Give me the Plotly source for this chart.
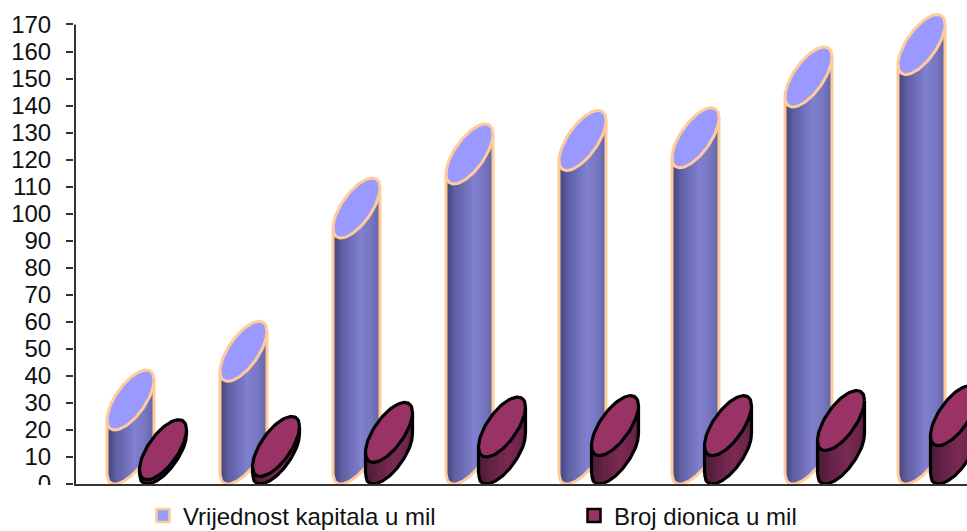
import numpy as np
import plotly.graph_objects as go

categories = list(range(8))
kapital = [20, 38, 91, 111, 116, 117, 139.5, 151.5]
dionice = [1.6, 2.8, 8, 10, 10.5, 10.5, 12.4, 14.2]
tick_values = list(range(0, 171, 10))
series_names = ["Vrijednost kapitala u mil", "Broj dionica u mil"]

W, H = 967, 531
L, R_PX, T, B = 74, 0, 0, 46.5
PX_X = 113.0
PX_Y = 460 / 170
A = 23.5 / PX_X
C = 20 / PX_Y
HH = 30 / PX_Y
BB = (HH ** 2 - C ** 2) ** 0.5
OFFSET = 16.25 / PX_X
XR = [-72.75 / PX_X, (W - 146.75) / PX_X]
YR = [0, (H - B) / PX_Y]
LEVELS = 26


def front(u, v):
    return v + HH + C * u - BB * np.sqrt(np.clip(1 - u ** 2, 0, 1))


def shade(stops, u):
    p = (u + 1) / 2
    xs = [s[0] for s in stops]
    return "rgb(%d,%d,%d)" % tuple(
        int(round(np.interp(p, xs, [s[1][k] for s in stops]))) for k in range(3)
    )


def draw(fig, vals, dx, stops, top, edge, width):
    edges = np.linspace(-1, 1, LEVELS + 1)
    for j in range(LEVELS):
        xs, ys = [], []
        u0, u1 = edges[j], min(edges[j + 1] + 0.03, 1)
        uu = np.linspace(u0, u1, 4)
        for c, v in zip(categories, vals):
            px = c + dx + A * uu
            xs += list(px) + list(px[::-1]) + [px[0], None]
            ys += list(front(uu, v)) + list(front(uu[::-1], 0)) + [front(uu[:1], v)[0], None]
        fig.add_trace(go.Scatter(
            x=xs, y=ys, mode="lines", line=dict(width=0), fill="toself",
            fillcolor=shade(stops, (edges[j] + edges[j + 1]) / 2),
            hoverinfo="skip", showlegend=False, cliponaxis=False))
    t = np.linspace(0, 2 * np.pi, 90)
    xo, yo, xt, yt = [], [], [], []
    arc = np.linspace(-1, 1, 60)
    for c, v in zip(categories, vals):
        cx = c + dx
        xo += [cx - A, cx - A] + [None] + [cx + A, cx + A] + [None]
        yo += [front(np.array([-1.0]), 0)[0], front(np.array([-1.0]), v)[0], None,
               front(np.array([1.0]), 0)[0], front(np.array([1.0]), v)[0], None]
        xo += list(cx + A * arc) + [None]
        yo += list(front(arc, 0)) + [None]
        xt += list(cx + A * np.cos(t)) + [None]
        yt += list(v + HH + BB * np.sin(t) + C * np.cos(t)) + [None]
    fig.add_trace(go.Scatter(x=xo, y=yo, mode="lines", line=dict(color=edge, width=width),
                             hoverinfo="skip", showlegend=False, cliponaxis=False))
    fig.add_trace(go.Scatter(x=xt, y=yt, mode="lines", line=dict(color=edge, width=width),
                             fill="toself", fillcolor=top,
                             hoverinfo="skip", showlegend=False, cliponaxis=False))


fig = go.Figure()
blue_stops = [(0, (68, 68, 122)), (0.2, (96, 96, 165)), (0.6, (128, 128, 208)),
              (0.85, (116, 116, 190)), (1, (98, 98, 160))]
red_stops = [(0, (74, 26, 52)), (0.25, (98, 34, 68)), (0.6, (122, 41, 82)),
             (0.85, (112, 37, 75)), (1, (90, 30, 62))]
draw(fig, kapital, -OFFSET, blue_stops, "#9999ff", "#ffcc99", 3)
draw(fig, dionice, OFFSET, red_stops, "#993366", "#000000", 3.2)

# y axis line just inside the plot area, stopping at the last tick
axis_x = XR[0] + 1 / PX_X
fig.add_trace(go.Scatter(x=[axis_x, axis_x], y=[0, tick_values[-1]], mode="lines",
                         line=dict(color="#333333", width=2), hoverinfo="skip",
                         showlegend=False))

for name, col, edge in zip(series_names, ["#9999ff", "#993366"], ["#ffcc99", "#000000"]):
    fig.add_trace(go.Scatter(
        x=[None], y=[None], mode="markers", name=name,
        marker=dict(symbol="square", size=13, color=col, line=dict(color=edge, width=2.5))))

font = "Liberation Sans, Arial, sans-serif"
fig.update_layout(
    width=W, height=H, margin=dict(l=L, r=R_PX, t=T, b=B, autoexpand=False),
    paper_bgcolor="white", plot_bgcolor="white",
    font=dict(family=font, color="#111111"),
    xaxis=dict(range=XR, showgrid=False, zeroline=False, showticklabels=False, ticks="",
               showline=True, linecolor="#333333", linewidth=2, fixedrange=True),
    yaxis=dict(range=YR, tickmode="array", tickvals=tick_values,
               showgrid=False, zeroline=False, ticks="outside", ticklen=7, tickwidth=2,
               tickcolor="#333333", showline=False,
               tickfont=dict(size=24, family=font, color="#111111"),
               ticklabelstandoff=10, fixedrange=True),
    legend=dict(orientation="h", x=143 / W, xref="container", y=(H - 516) / H, yref="container",
                xanchor="left", yanchor="middle",
                font=dict(size=24, family=font, color="#111111"),
                entrywidth=386, entrywidthmode="pixels", itemwidth=30,
                bgcolor="rgba(0,0,0,0)"),
    shapes=[dict(type="rect", xref="paper", yref="paper", layer="above",
                 x0=-L / (W - L), x1=-9 / (W - L), y0=-20 / (H - T - B), y1=-1 / (H - T - B),
                 fillcolor="white", line=dict(width=0))],
)
fig.write_html("out.html", config=dict(displayModeBar=False),
               post_script="document.documentElement.style.overflow='hidden';document.body.style.margin='0';")
